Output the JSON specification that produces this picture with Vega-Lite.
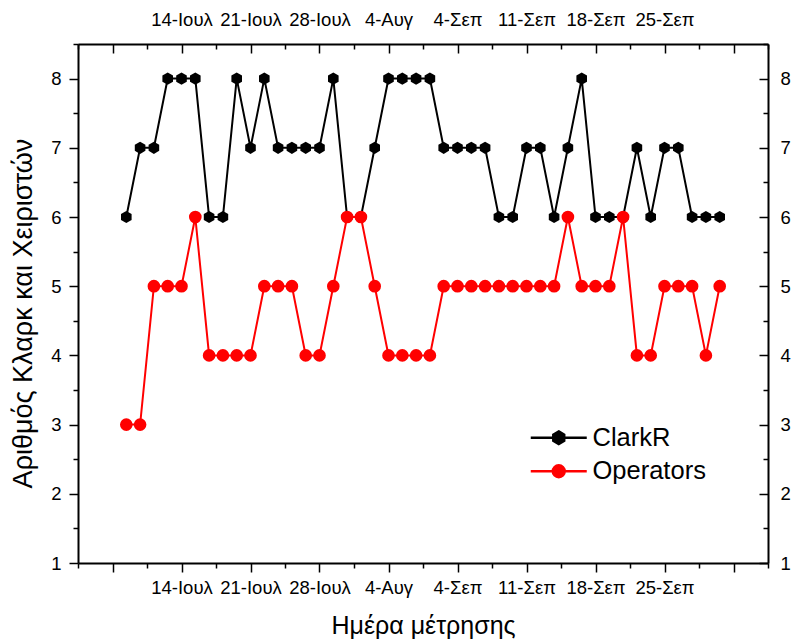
{
  "$schema": "https://vega.github.io/schema/vega-lite/v6.json",
  "width": 690,
  "height": 519,
  "autosize": "none",
  "padding": {"left": 78, "top": 44, "right": 25, "bottom": 81},
  "background": "white",
  "config": {
    "view": {"stroke": null},
    "font": "Liberation Sans",
    "axis": {
      "grid": false,
      "domainColor": "black",
      "tickColor": "black",
      "labelColor": "black",
      "titleColor": "black",
      "domainWidth": 2,
      "tickWidth": 1.5,
      "labelFont": "Liberation Sans",
      "titleFont": "Liberation Sans",
      "titleFontWeight": "normal",
      "labelFontSize": 18.5,
      "titleFontSize": 25,
      "labelOverlap": false,
      "labelFlush": false
    }
  },
  "data": {
    "values": [
      {"idx": 1, "series": "ClarkR", "value": 6},
      {"idx": 2, "series": "ClarkR", "value": 7},
      {"idx": 3, "series": "ClarkR", "value": 7},
      {"idx": 4, "series": "ClarkR", "value": 8},
      {"idx": 5, "series": "ClarkR", "value": 8},
      {"idx": 6, "series": "ClarkR", "value": 8},
      {"idx": 7, "series": "ClarkR", "value": 6},
      {"idx": 8, "series": "ClarkR", "value": 6},
      {"idx": 9, "series": "ClarkR", "value": 8},
      {"idx": 10, "series": "ClarkR", "value": 7},
      {"idx": 11, "series": "ClarkR", "value": 8},
      {"idx": 12, "series": "ClarkR", "value": 7},
      {"idx": 13, "series": "ClarkR", "value": 7},
      {"idx": 14, "series": "ClarkR", "value": 7},
      {"idx": 15, "series": "ClarkR", "value": 7},
      {"idx": 16, "series": "ClarkR", "value": 8},
      {"idx": 17, "series": "ClarkR", "value": 6},
      {"idx": 18, "series": "ClarkR", "value": 6},
      {"idx": 19, "series": "ClarkR", "value": 7},
      {"idx": 20, "series": "ClarkR", "value": 8},
      {"idx": 21, "series": "ClarkR", "value": 8},
      {"idx": 22, "series": "ClarkR", "value": 8},
      {"idx": 23, "series": "ClarkR", "value": 8},
      {"idx": 24, "series": "ClarkR", "value": 7},
      {"idx": 25, "series": "ClarkR", "value": 7},
      {"idx": 26, "series": "ClarkR", "value": 7},
      {"idx": 27, "series": "ClarkR", "value": 7},
      {"idx": 28, "series": "ClarkR", "value": 6},
      {"idx": 29, "series": "ClarkR", "value": 6},
      {"idx": 30, "series": "ClarkR", "value": 7},
      {"idx": 31, "series": "ClarkR", "value": 7},
      {"idx": 32, "series": "ClarkR", "value": 6},
      {"idx": 33, "series": "ClarkR", "value": 7},
      {"idx": 34, "series": "ClarkR", "value": 8},
      {"idx": 35, "series": "ClarkR", "value": 6},
      {"idx": 36, "series": "ClarkR", "value": 6},
      {"idx": 37, "series": "ClarkR", "value": 6},
      {"idx": 38, "series": "ClarkR", "value": 7},
      {"idx": 39, "series": "ClarkR", "value": 6},
      {"idx": 40, "series": "ClarkR", "value": 7},
      {"idx": 41, "series": "ClarkR", "value": 7},
      {"idx": 42, "series": "ClarkR", "value": 6},
      {"idx": 43, "series": "ClarkR", "value": 6},
      {"idx": 44, "series": "ClarkR", "value": 6},
      {"idx": 1, "series": "Operators", "value": 3},
      {"idx": 2, "series": "Operators", "value": 3},
      {"idx": 3, "series": "Operators", "value": 5},
      {"idx": 4, "series": "Operators", "value": 5},
      {"idx": 5, "series": "Operators", "value": 5},
      {"idx": 6, "series": "Operators", "value": 6},
      {"idx": 7, "series": "Operators", "value": 4},
      {"idx": 8, "series": "Operators", "value": 4},
      {"idx": 9, "series": "Operators", "value": 4},
      {"idx": 10, "series": "Operators", "value": 4},
      {"idx": 11, "series": "Operators", "value": 5},
      {"idx": 12, "series": "Operators", "value": 5},
      {"idx": 13, "series": "Operators", "value": 5},
      {"idx": 14, "series": "Operators", "value": 4},
      {"idx": 15, "series": "Operators", "value": 4},
      {"idx": 16, "series": "Operators", "value": 5},
      {"idx": 17, "series": "Operators", "value": 6},
      {"idx": 18, "series": "Operators", "value": 6},
      {"idx": 19, "series": "Operators", "value": 5},
      {"idx": 20, "series": "Operators", "value": 4},
      {"idx": 21, "series": "Operators", "value": 4},
      {"idx": 22, "series": "Operators", "value": 4},
      {"idx": 23, "series": "Operators", "value": 4},
      {"idx": 24, "series": "Operators", "value": 5},
      {"idx": 25, "series": "Operators", "value": 5},
      {"idx": 26, "series": "Operators", "value": 5},
      {"idx": 27, "series": "Operators", "value": 5},
      {"idx": 28, "series": "Operators", "value": 5},
      {"idx": 29, "series": "Operators", "value": 5},
      {"idx": 30, "series": "Operators", "value": 5},
      {"idx": 31, "series": "Operators", "value": 5},
      {"idx": 32, "series": "Operators", "value": 5},
      {"idx": 33, "series": "Operators", "value": 6},
      {"idx": 34, "series": "Operators", "value": 5},
      {"idx": 35, "series": "Operators", "value": 5},
      {"idx": 36, "series": "Operators", "value": 5},
      {"idx": 37, "series": "Operators", "value": 6},
      {"idx": 38, "series": "Operators", "value": 4},
      {"idx": 39, "series": "Operators", "value": 4},
      {"idx": 40, "series": "Operators", "value": 5},
      {"idx": 41, "series": "Operators", "value": 5},
      {"idx": 42, "series": "Operators", "value": 5},
      {"idx": 43, "series": "Operators", "value": 4},
      {"idx": 44, "series": "Operators", "value": 5}
    ]
  },
  "layer": [
    {
      "mark": {"type": "line", "strokeWidth": 2},
      "encoding": {
        "x": {
          "field": "idx", "type": "quantitative",
          "scale": {"domain": [-2.5, 47.5], "nice": false, "zero": false},
          "axis": {
            "orient": "bottom",
            "values": [0, 5, 10, 15, 20, 25, 30, 35, 40, 45],
            "tickSize": 9,
            "labelPadding": 6,
            "labelExpr": "datum.value == 5 ? '14-Ιουλ' : datum.value == 10 ? '21-Ιουλ' : datum.value == 15 ? '28-Ιουλ' : datum.value == 20 ? '4-Αυγ' : datum.value == 25 ? '4-Σεπ' : datum.value == 30 ? '11-Σεπ' : datum.value == 35 ? '18-Σεπ' : datum.value == 40 ? '25-Σεπ' : ''",
            "title": "Ημέρα μέτρησης",
            "titlePadding": 17
          }
        },
        "y": {
          "field": "value", "type": "quantitative",
          "scale": {"domain": [1, 8.5], "nice": false, "zero": false},
          "axis": {
            "orient": "left",
            "values": [1, 2, 3, 4, 5, 6, 7, 8],
            "tickSize": 9,
            "labelPadding": 8,
            "title": "Αριθμός Κλαρκ και Χειριστών",
            "titleFontSize": 27,
            "titleY": 269,
            "titlePadding": 13
          }
        },
        "color": {
          "field": "series", "type": "nominal",
          "scale": {"domain": ["ClarkR", "Operators"], "range": ["#000000", "#ff0000"]},
          "legend": {
            "title": null,
            "orient": "none",
            "legendX": 468,
            "legendY": 381,
            "labelFontSize": 25.5,
            "labelFont": "Liberation Sans",
            "labelColor": "black",
            "symbolSize": 196,
            "labelOffset": 21,
            "rowPadding": 6.5,
            "symbolOpacity": 1,
            "symbolStrokeWidth": 2,
            "encode": {
              "symbols": {
                "update": {
                  "shape": {"signal": "datum.value == 'ClarkR' ? 'M-4,0L4,0M0,-0.9L0.78,-0.45L0.78,0.45L0,0.9L-0.78,0.45L-0.78,-0.45Z' : 'M-4,0L4,0M0.85,0A0.85,0.85 0 1,1 -0.85,0A0.85,0.85 0 1,1 0.85,0Z'"},
                  "fill": {"signal": "datum.value == 'ClarkR' ? '#000000' : '#ff0000'"},
                  "stroke": {"signal": "datum.value == 'ClarkR' ? '#000000' : '#ff0000'"},
                  "strokeWidth": {"value": 2.5}
                }
              }
            }
          }
        }
      }
    },
    {
      "transform": [{"filter": "datum.series == 'ClarkR'"}],
      "mark": {"type": "point", "filled": true, "opacity": 1, "size": 150, "color": "#000000", "shape": "M0,-1L0.866,-0.5L0.866,0.5L0,1L-0.866,0.5L-0.866,-0.5Z"},
      "encoding": {
        "x": {
          "field": "idx", "type": "quantitative",
          "axis": {
            "orient": "top",
            "values": [0, 5, 10, 15, 20, 25, 30, 35, 40, 45],
            "tickSize": -9,
            "labelPadding": 24,
            "labelExpr": "datum.value == 5 ? '14-Ιουλ' : datum.value == 10 ? '21-Ιουλ' : datum.value == 15 ? '28-Ιουλ' : datum.value == 20 ? '4-Αυγ' : datum.value == 25 ? '4-Σεπ' : datum.value == 30 ? '11-Σεπ' : datum.value == 35 ? '18-Σεπ' : datum.value == 40 ? '25-Σεπ' : ''",
            "title": null
          }
        },
        "y": {
          "field": "value", "type": "quantitative",
          "axis": {
            "orient": "right",
            "values": [1, 2, 3, 4, 5, 6, 7, 8],
            "tickSize": -9,
            "labelPadding": 21,
            "title": null
          }
        }
      }
    },
    {
      "transform": [{"filter": "datum.series == 'Operators'"}],
      "mark": {"type": "point", "filled": true, "opacity": 1, "size": 160, "color": "#ff0000", "shape": "circle"},
      "encoding": {
        "x": {"field": "idx", "type": "quantitative", "axis": null},
        "y": {"field": "value", "type": "quantitative", "axis": null}
      }
    },
    {
      "mark": {"type": "point", "opacity": 0},
      "encoding": {
        "x": {
          "field": "idx", "type": "quantitative",
          "axis": {
            "orient": "bottom",
            "values": [-2.5, 2.5, 7.5, 12.5, 17.5, 22.5, 27.5, 32.5, 37.5, 42.5, 47.5],
            "tickSize": 5, "labels": false, "domain": false, "title": null
          }
        },
        "y": {
          "field": "value", "type": "quantitative",
          "axis": {
            "orient": "left",
            "values": [1.5, 2.5, 3.5, 4.5, 5.5, 6.5, 7.5, 8.5],
            "tickSize": 5, "labels": false, "domain": false, "title": null
          }
        }
      }
    },
    {
      "mark": {"type": "point", "opacity": 0},
      "encoding": {
        "x": {
          "field": "idx", "type": "quantitative",
          "axis": {
            "orient": "top",
            "values": [-2.5, 2.5, 7.5, 12.5, 17.5, 22.5, 27.5, 32.5, 37.5, 42.5, 47.5],
            "tickSize": -5, "labels": false, "domain": false, "title": null
          }
        },
        "y": {
          "field": "value", "type": "quantitative",
          "axis": {
            "orient": "right",
            "values": [1.5, 2.5, 3.5, 4.5, 5.5, 6.5, 7.5, 8.5],
            "tickSize": -5, "labels": false, "domain": false, "title": null
          }
        }
      }
    }
  ],
  "resolve": {
    "axis": {"x": "independent", "y": "independent"}
  }
}
